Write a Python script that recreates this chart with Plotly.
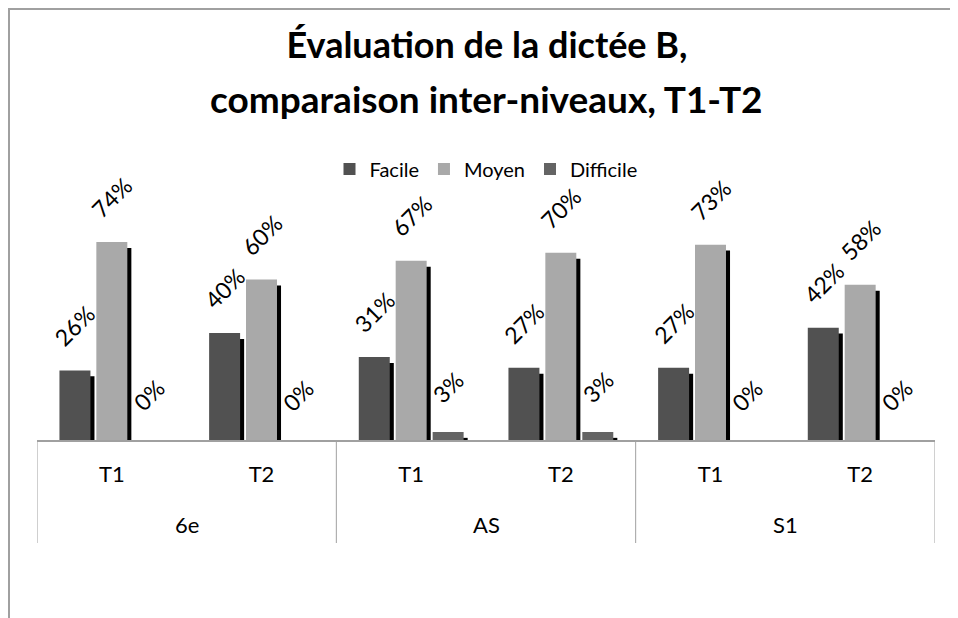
import plotly.graph_objects as go

# Données
niveaux = ["6e", "AS", "S1"]
tests = ["T1", "T2", "T1", "T2", "T1", "T2"]
facile = [0.26, 0.40, 0.31, 0.27, 0.27, 0.42]
moyen = [0.74, 0.60, 0.67, 0.70, 0.73, 0.58]
difficile = [0.00, 0.00, 0.03, 0.03, 0.00, 0.00]

series = [
    ("Facile", facile, "#515151", -0.35),
    ("Moyen", moyen, "#a9a9a9", -0.1035),
    ("Difficile", difficile, "#646464", 0.1435),
]

xpos = list(range(len(tests)))
bar_w = 0.207
shadow_dx = 0.027
shadow_dy = 0.022

# dimensions de la zone de tracé (px)
L, R, T, B = 29, 31, 218, 186
PW, PH = 958 - L - R, 618 - T - B

fig = go.Figure()

# Ombres
for nom, vals, col, off in series:
    fig.add_trace(go.Bar(
        x=xpos, y=[max(v - shadow_dy, 0) for v in vals],
        width=bar_w, offset=off + shadow_dx,
        marker=dict(color="black", line=dict(width=0)),
        showlegend=False, hoverinfo="skip",
    ))

# Barres
for nom, vals, col, off in series:
    fig.add_trace(go.Bar(
        x=xpos, y=vals, name=nom,
        width=bar_w, offset=off,
        marker=dict(color=col, line=dict(width=0)),
    ))

# Étiquettes inclinées
annotations = []
for nom, vals, col, off in series:
    for i, v in enumerate(vals):
        annotations.append(dict(
            x=i + off + bar_w / 2, y=v, xref="x", yref="y",
            text=f"{round(v * 100)}%", showarrow=False, textangle=-45,
            xanchor="center", yanchor="middle", yshift=45,
            font=dict(family="Lato", size=23, color="black"),
        ))

# Niveaux (2e ligne de l'axe)
n_par_niveau = len(tests) // len(niveaux)
for k, niv in enumerate(niveaux):
    annotations.append(dict(
        x=k * n_par_niveau + (n_par_niveau - 1) / 2, y=0, xref="x", yref="paper",
        text=niv, showarrow=False, xanchor="center", yanchor="middle", yshift=-84,
        font=dict(family="Lato", size=22, color="black"),
    ))

annotations.append(dict(
    x=0.5, y=(PH + T - 90) / PH, xref="paper", yref="paper",
    text="<b>comparaison inter-niveaux, T1-T2</b>", showarrow=False,
    xanchor="center", yanchor="middle",
    font=dict(family="Lato", size=37, color="black"),
))

# Séparateurs de niveaux
shapes = []
for k in range(len(niveaux) + 1):
    xd = k * n_par_niveau - 0.5
    shapes.append(dict(type="line", xref="x", yref="paper", x0=xd, x1=xd,
                       y0=0, y1=-103 / PH, line=dict(color="#a0a0a0", width=1)))

# Cadre du graphique
shapes += [
    dict(type="line", xref="paper", yref="paper", x0=-L / PW, x1=(958 - L) / PW,
         y0=(PH + T - 1) / PH, y1=(PH + T - 1) / PH, line=dict(color="#a0a0a0", width=2)),
    dict(type="line", xref="paper", yref="paper", x0=(1 - L) / PW, x1=(1 - L) / PW,
         y0=(PH + T) / PH, y1=-B / PH, line=dict(color="#a0a0a0", width=2)),
]

fig.update_layout(
    width=958, height=618,
    margin=dict(l=L, r=R, t=T, b=B),
    paper_bgcolor="white", plot_bgcolor="white",
    barmode="overlay",
    title=dict(text="<b>Évaluation de la dictée B,</b>", x=0.5, xanchor="center",
               y=1 - 37 / 618, yanchor="middle",
               font=dict(family="Lato", size=36, color="black")),
    legend=dict(orientation="h", x=0.5, xanchor="center", y=(PH + T - 161) / PH, yanchor="middle",
                font=dict(family="Lato", size=20, color="black"), traceorder="normal"),
    xaxis=dict(tickmode="array", tickvals=xpos, ticktext=tests, range=[-0.5, len(tests) - 0.5],
               showline=True, linecolor="#a0a0a0", linewidth=2, ticks="", ticklabelstandoff=14,
               tickfont=dict(family="Lato", size=22, color="black"), showgrid=False, zeroline=False),
    yaxis=dict(range=[0, 0.8], visible=False, showgrid=False),
    annotations=annotations,
    shapes=shapes,
    showlegend=True,
)

fig.write_html("out.html")
